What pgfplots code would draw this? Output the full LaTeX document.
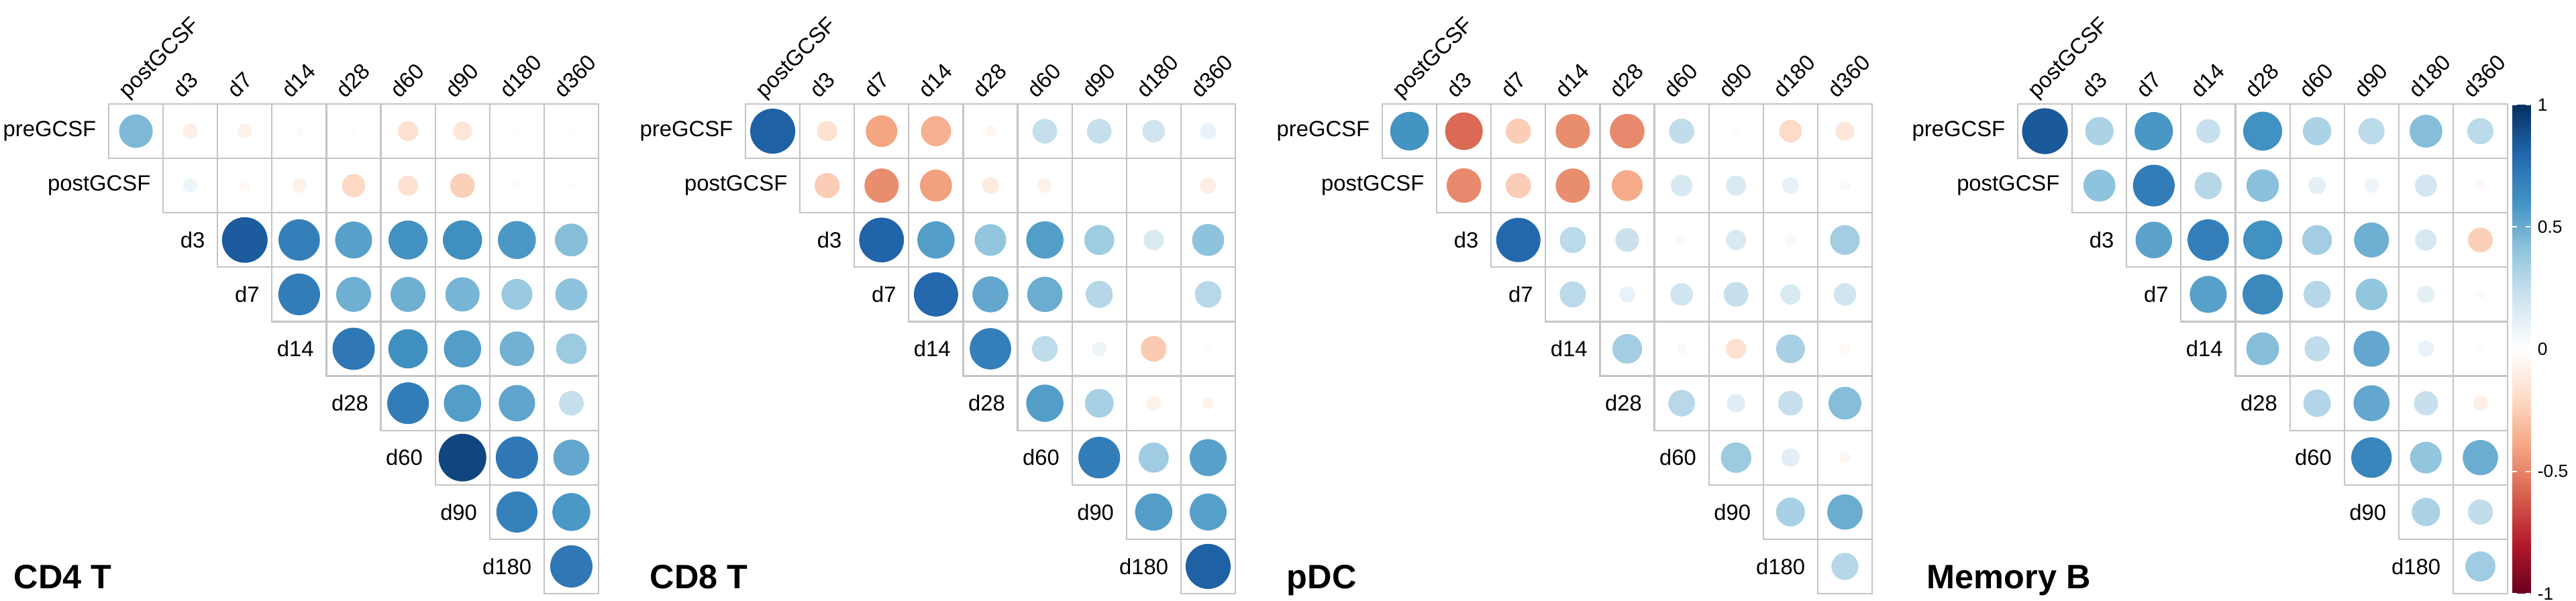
\documentclass[border=0pt]{standalone}
\usepackage{fontspec}
\setmainfont{Liberation Sans}
\usepackage{pgfplots}
\usepackage{pgfplotstable}
\pgfplotsset{compat=1.18}
\definecolor{gridc}{HTML}{C4C4C4}
\pgfplotsset{colormap={rdbu}{HTML=(67001F) HTML=(B2182B) HTML=(D6604D) HTML=(F4A582) HTML=(FDDBC7) HTML=(FFFFFF) HTML=(D1E5F0) HTML=(92C5DE) HTML=(4393C3) HTML=(2166AC) HTML=(053061)}}

\pgfplotstableread{
c rw v
0 0 0.45
1 0 -0.09
2 0 -0.08
3 0 0.03
4 0 0.02
5 0 -0.16
6 0 -0.14
7 0 0.02
8 0 -0.01
1 1 0.08
2 1 -0.04
3 1 -0.08
4 1 -0.21
5 1 -0.16
6 1 -0.24
7 1 -0.03
8 1 -0.02
2 2 0.84
3 2 0.69
4 2 0.55
5 2 0.61
6 2 0.62
7 2 0.58
8 2 0.43
3 3 0.70
4 3 0.49
5 3 0.49
6 3 0.47
7 3 0.38
8 3 0.41
4 4 0.72
5 4 0.62
6 4 0.56
7 4 0.48
8 4 0.37
5 5 0.70
6 5 0.56
7 5 0.53
8 5 0.24
6 6 0.92
7 6 0.72
8 6 0.52
7 7 0.68
8 7 0.58
8 8 0.72
}\cdfour

\pgfplotstableread{
c rw v
0 0 0.82
1 0 -0.16
2 0 -0.40
3 0 -0.36
4 0 -0.05
5 0 0.24
6 0 0.24
7 0 0.20
8 0 0.10
1 1 -0.25
2 1 -0.47
3 1 -0.41
4 1 -0.11
5 1 -0.08
6 1 0.01
7 1 0.005
8 1 -0.10
2 2 0.81
3 2 0.56
4 2 0.40
5 2 0.56
6 2 0.36
7 2 0.16
8 2 0.41
3 3 0.79
4 3 0.52
5 3 0.50
6 3 0.29
7 3 0.00
8 3 0.28
4 4 0.69
5 4 0.26
6 4 0.08
7 4 -0.26
8 4 -0.02
5 5 0.56
6 5 0.33
7 5 -0.08
8 5 -0.06
6 6 0.70
7 6 0.36
8 6 0.55
7 7 0.56
8 7 0.55
8 8 0.82
}\cdeight

\pgfplotstableread{
c rw v
0 0 0.60
1 0 -0.57
2 0 -0.25
3 0 -0.47
4 0 -0.48
5 0 0.25
6 0 -0.02
7 0 -0.20
8 0 -0.14
1 1 -0.48
2 1 -0.25
3 1 -0.47
4 1 -0.38
5 1 0.18
6 1 0.16
7 1 0.11
8 1 0.04
2 2 0.79
3 2 0.27
4 2 0.22
5 2 -0.04
6 2 0.16
7 2 0.05
8 2 0.35
3 3 0.27
4 3 0.10
5 3 0.20
6 3 0.24
7 3 0.16
8 3 0.20
4 4 0.35
5 4 0.04
6 4 -0.16
7 4 0.33
8 4 -0.04
5 5 0.28
6 5 0.13
7 5 0.24
8 5 0.43
6 6 0.37
7 6 0.13
8 6 -0.05
7 7 0.33
8 7 0.50
8 8 0.29
}\pdc

\pgfplotstableread{
c rw v
0 0 0.85
1 0 0.32
2 0 0.59
3 0 0.23
4 0 0.61
5 0 0.32
6 0 0.27
7 0 0.43
8 0 0.27
1 1 0.41
2 1 0.70
3 1 0.29
4 1 0.42
5 1 0.12
6 1 0.08
7 1 0.19
8 1 -0.04
2 2 0.54
3 2 0.69
4 2 0.61
5 2 0.35
6 2 0.49
7 2 0.18
8 2 -0.24
3 3 0.55
4 3 0.65
5 3 0.29
6 3 0.40
7 3 0.12
8 3 0.03
4 4 0.43
5 4 0.25
6 4 0.52
7 4 0.10
8 4 -0.02
5 5 0.30
6 5 0.52
7 5 0.23
8 5 -0.09
6 6 0.66
7 6 0.40
8 6 0.50
7 7 0.32
8 7 0.25
8 8 0.36
}\memb

\pgfplotsset{
  panel/.style={
    scale only axis, width=182.5pt, height=182.5pt,
    xmin=-0.5, xmax=8.5, ymin=-0.5, ymax=8.5, y dir=reverse,
    hide axis, clip=false, anchor=north west,
    point meta min=-1, point meta max=1,
  },
}
\tikzset{
  gridline/.style={draw=gridc, line width=0.55pt, line cap=rect},
  rowlab/.style={anchor=east, inner sep=0pt, xshift=-4.5pt, font=\fontsize{8.2}{9}\selectfont},
  collab/.style={anchor=base west, inner sep=0pt, rotate=45, xshift=-1pt, yshift=3.5pt, font=\fontsize{8.2}{9}\selectfont},
}

\newcommand\panelgrid{%
  \draw[gridline] (axis cs:-0.5,-0.5) -- (axis cs:8.5,-0.5);
  \pgfplotsinvokeforeach{1,...,9}{\draw[gridline] (axis cs:##1-1.5,##1-0.5) -- (axis cs:8.5,##1-0.5);}
  \pgfplotsinvokeforeach{0,...,8}{\draw[gridline] (axis cs:##1-0.5,-0.5) -- (axis cs:##1-0.5,##1+0.5);}
  \draw[gridline] (axis cs:8.5,-0.5) -- (axis cs:8.5,8.5);
  \node[rowlab] at (axis cs:-0.5,0) {preGCSF};
  \node[rowlab] at (axis cs:0.5,1) {postGCSF};
  \node[rowlab] at (axis cs:1.5,2) {d3};
  \node[rowlab] at (axis cs:2.5,3) {d7};
  \node[rowlab] at (axis cs:3.5,4) {d14};
  \node[rowlab] at (axis cs:4.5,5) {d28};
  \node[rowlab] at (axis cs:5.5,6) {d60};
  \node[rowlab] at (axis cs:6.5,7) {d90};
  \node[rowlab] at (axis cs:7.5,8) {d180};
  \node[collab] at (axis cs:0,-0.5) {postGCSF};
  \node[collab] at (axis cs:1,-0.5) {d3};
  \node[collab] at (axis cs:2,-0.5) {d7};
  \node[collab] at (axis cs:3,-0.5) {d14};
  \node[collab] at (axis cs:4,-0.5) {d28};
  \node[collab] at (axis cs:5,-0.5) {d60};
  \node[collab] at (axis cs:6,-0.5) {d90};
  \node[collab] at (axis cs:7,-0.5) {d180};
  \node[collab] at (axis cs:8,-0.5) {d360};
}

\newcommand\corrcircles[1]{%
  \addplot[scatter, only marks, mark=*, line width=0.25pt,
    point meta=\thisrow{v},
    scatter/use mapped color={draw=mapped color, fill=mapped color},
    visualization depends on={9.125*sqrt(abs(\thisrow{v})) \as \rad},
    scatter/@pre marker code/.append style={/tikz/mark size=\rad},
  ] table[x=c, y=rw] {#1};
}

\begin{document}
\begin{tikzpicture}

\begin{axis}[panel, at={(40.5pt,-38.75pt)}]
\panelgrid
\corrcircles{\cdfour}
\end{axis}

\begin{axis}[panel, at={(277.75pt,-38.75pt)}]
\panelgrid
\corrcircles{\cdeight}
\end{axis}

\begin{axis}[panel, at={(515pt,-38.75pt)}]
\panelgrid
\corrcircles{\pdc}
\end{axis}

\begin{axis}[panel, at={(751.75pt,-38.75pt)}]
\panelgrid
\corrcircles{\memb}
\end{axis}

% colour key
\begin{axis}[at={(936pt,-39pt)}, anchor=north west,
  scale only axis, width=6.75pt, height=182.25pt,
  xmin=0, xmax=1, ymin=-1, ymax=1,
  point meta min=-1, point meta max=1,
  xtick=\empty,
  ytick={-1,-0.5,0,0.5,1},
  yticklabels={{-1},{-0.5},{0},{0.5},{1}},
  yticklabel pos=right,
  ytick pos=both,
  tick align=inside,
  major tick length=1.75pt,
  every tick/.style={white, line width=0.5pt},
  axis line style={draw=none},
  axis on top,
  yticklabel style={font=\fontsize{6.6}{7}\selectfont, inner sep=0pt, anchor=west, xshift=2.5pt},
]
\addplot[surf, shader=interp, mesh/cols=2, point meta=\thisrow{m}] table {
x y m
0 -1 -1
1 -1 -1
0 1 1
1 1 1
};
\end{axis}

\node[anchor=base west, inner sep=0pt, font=\fontsize{12.6}{14}\selectfont\bfseries] at (5pt,-219.25pt) {CD4 T};
\node[anchor=base west, inner sep=0pt, font=\fontsize{12.6}{14}\selectfont\bfseries] at (242pt,-219.25pt) {CD8 T};
\node[anchor=base west, inner sep=0pt, font=\fontsize{12.6}{14}\selectfont\bfseries] at (479.25pt,-219.25pt) {pDC};
\node[anchor=base west, inner sep=0pt, font=\fontsize{12.6}{14}\selectfont\bfseries] at (717.75pt,-219.25pt) {Memory B};

\pgfresetboundingbox
\path[use as bounding box] (0,0) rectangle (959.75pt,-224pt);
\end{tikzpicture}
\end{document}
